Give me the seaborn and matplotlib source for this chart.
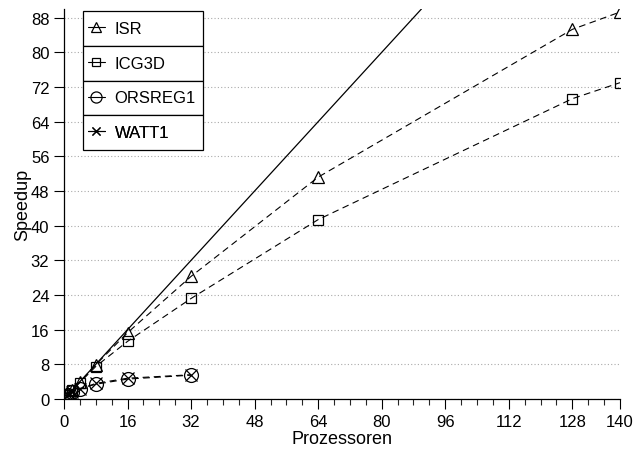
import matplotlib
matplotlib.use("Agg")
import matplotlib.pyplot as plt
import numpy as np
import pandas as pd
import seaborn as sns
from matplotlib.lines import Line2D
from matplotlib.patches import Rectangle

procs = [1, 2, 4, 8, 16, 32, 64, 128, 140]
isr = [1.0, 2.0, 3.9, 7.9, 15.3, 28.3, 51.2, 85.3, 89.3]
icg3d = [1.0, 2.0, 3.8, 7.5, 13.3, 23.2, 41.4, 69.3, 73.0]

procs_small = [1, 2, 4, 8, 16, 32]
orsreg1 = [1.0, 1.6, 2.4, 3.4, 4.6, 5.5]
watt1 = [0.9, 1.7, 2.3, 3.6, 4.8, 5.6]

ideal_x = [0, 90]

series = [
    ("ISR", procs, isr, "^", 9),
    ("ICG3D", procs, icg3d, "s", 7.5),
    ("ORSREG1", procs_small, orsreg1, "o", 10),
    ("WATT1", procs_small, watt1, "x", 8),
]

sns.set_style("ticks")
plt.rcParams["font.family"] = ["Liberation Sans", "DejaVu Sans"]
plt.rcParams["text.color"] = "black"
plt.rcParams["axes.labelcolor"] = "black"

fig = plt.figure(figsize=(6.34, 4.6), dpi=100)
ax = fig.add_axes([64 / 634, 1 - 400 / 460, 556 / 634, 390 / 460])

sns.lineplot(x=ideal_x, y=ideal_x, ax=ax, color="black", lw=0.9)

dash = (0, (6, 4))
for name, xs, ys, mk, ms in series:
    df = pd.DataFrame({"p": xs, "s": ys})
    sns.lineplot(data=df, x="p", y="s", ax=ax, color="black", lw=0.8,
                 linestyle=dash, marker=mk, markersize=ms,
                 markerfacecolor="none", markeredgecolor="black",
                 markeredgewidth=0.9)

ax.set_xlim(0, 140)
ax.set_ylim(0, 90)
ax.set_xticks(list(range(0, 129, 16)) + [140])
ax.set_xticks(np.arange(0, 141, 4), minor=True)
ax.set_yticks(range(0, 89, 8))
ax.yaxis.grid(True, linestyle=(0, (1, 2)), color="#aaaaaa", lw=0.8)
ax.tick_params(axis="both", which="major", direction="out", length=7,
               width=0.8, labelsize=12, colors="black")
ax.tick_params(axis="x", which="minor", direction="out", length=4, width=0.8)
ax.tick_params(axis="y", which="minor", length=0)
for sp in ["top", "right"]:
    ax.spines[sp].set_visible(False)
for sp in ["left", "bottom"]:
    ax.spines[sp].set_linewidth(0.9)
    ax.spines[sp].set_color("black")

ax.set_xlabel("Prozessoren", fontsize=13, labelpad=1)
ax.set_ylabel("Speedup", fontsize=13, labelpad=0)

# legend: one boxed cell per entry
x0 = (83 - 64) / 556
x1 = (203 - 64) / 556
top = (400 - 12) / 390
cell = 34.75 / 390
for i, (name, xs, ys, mk, ms) in enumerate(series):
    y_top = top - i * cell
    ax.add_patch(Rectangle((x0, y_top - cell), x1 - x0, cell,
                           transform=ax.transAxes, facecolor="white",
                           edgecolor="black", lw=0.9, zorder=5,
                           clip_on=False))
    h = Line2D([], [], color="black", lw=0.8, marker=mk, markersize=ms * 0.8,
               markerfacecolor="none", markeredgewidth=0.9)
    leg = ax.legend(handles=[h], labels=[name], loc="center left",
                    bbox_to_anchor=(x0, y_top - cell / 2), frameon=False,
                    handlelength=1.0, handletextpad=0.6, borderaxespad=0,
                    borderpad=0.3, fontsize=12, labelcolor="black")
    leg.set_zorder(6)
    ax.add_artist(leg)

fig.savefig("out.png", dpi=100)
